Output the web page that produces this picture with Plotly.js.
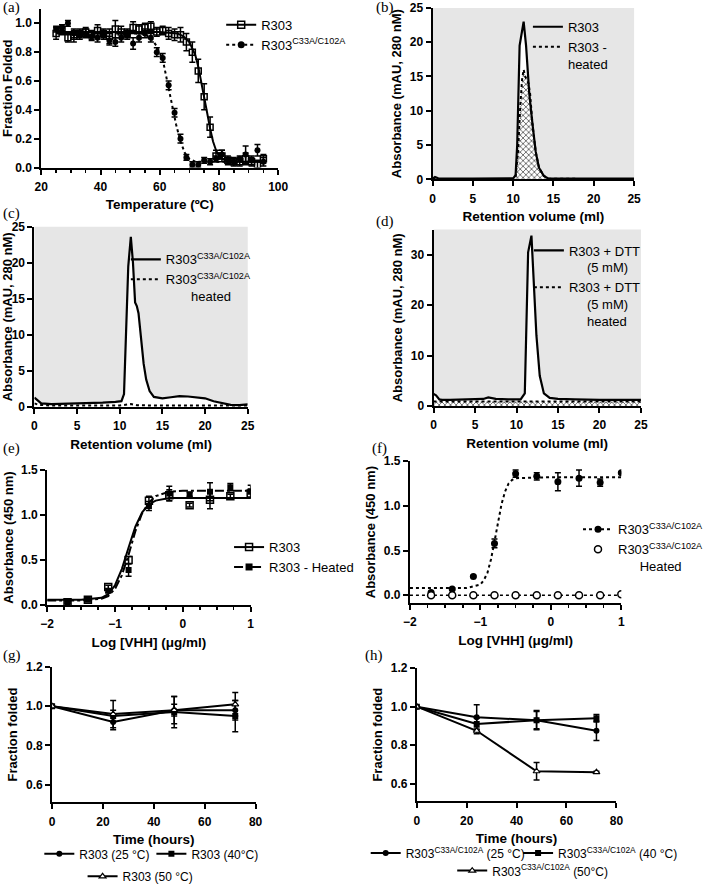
<!DOCTYPE html>
<html>
<head>
<meta charset="utf-8">
<script src="https://cdn.plot.ly/plotly-3.0.1.min.js"></script>
<style>html,body{margin:0;padding:0;overflow:hidden;background:#fff}#plot{width:709px;height:891px}</style>
</head>
<body>
<div id="plot"></div>
<script>
// (a) thermal melt
var tempA = [25,27,29,31,33,35,37,39,41,43,45,47,49,51,53,55,57,59,61,63,65,67,69,71,73,75,77,79,81,83,85,87,89,91,93,95];
var foldWT = [0.93,0.95,0.90,0.91,0.93,0.94,0.92,0.95,0.93,0.91,0.96,0.94,0.93,0.97,0.96,0.97,0.98,0.94,0.95,0.93,0.92,0.92,0.87,0.80,0.67,0.49,0.28,0.08,0.08,0.05,0.04,0.04,0.06,0.04,0.02,0.06];
var errWT = [0.04,0.03,0.03,0.04,0.03,0.03,0.03,0.04,0.03,0.05,0.06,0.04,0.03,0.04,0.03,0.03,0.03,0.03,0.03,0.04,0.04,0.05,0.06,0.07,0.08,0.09,0.07,0.04,0.04,0.03,0.03,0.03,0.04,0.03,0.03,0.03];
var foldMut = [0.96,0.97,1.00,0.93,0.92,0.93,0.91,0.90,0.92,0.88,0.87,0.90,0.92,0.86,0.90,0.93,0.90,0.80,0.76,0.57,0.38,0.20,0.07,0.02,0.02,0.05,0.04,0.06,0.09,0.05,0.04,0.06,0.09,0.05,0.12,0.04];
var errMut = [0.02,0.02,0.02,0.03,0.03,0.03,0.03,0.03,0.03,0.03,0.03,0.03,0.03,0.04,0.03,0.03,0.03,0.03,0.03,0.03,0.03,0.03,0.02,0.02,0.02,0.02,0.02,0.02,0.03,0.02,0.02,0.02,0.06,0.03,0.04,0.03];
var fitTempWT = [25,60,66,68,70,72,73,74,75,76,77,78,79,80,82,85,95];
var fitWT = [0.94,0.94,0.93,0.91,0.87,0.78,0.70,0.60,0.49,0.38,0.27,0.18,0.12,0.08,0.05,0.04,0.04];
var fitTempMut = [25,54,57,59,61,62.5,64,65.5,67,68.5,70,72,95];
var fitMut = [0.93,0.93,0.90,0.84,0.75,0.60,0.45,0.30,0.18,0.10,0.06,0.04,0.04];

// (b) SEC R303
var volB = [0,0.3,0.7,2,5,9,10.0,10.3,10.5,10.8,11.05,11.3,11.6,11.8,12.0,12.4,12.8,13.2,13.8,14.4,16,20,25];
var absB = [0.1,0.35,0.15,0.1,0.1,0.1,0.15,0.6,5,19.5,21,23,19.5,15,12.5,8,4,1.7,0.5,0.1,0.1,0.1,0.1];
var volBh = [0,5,10,10.3,10.6,10.9,11.1,11.3,11.5,11.7,11.9,12.1,12.4,12.8,13.2,13.8,14.4,20,25];
var absBh = [0.05,0.05,0.05,0.3,4,11,14.5,16,15,14.5,14,12.5,8,4,1.7,0.5,0.1,0.05,0.05];

// (c) SEC mutant
var volC = [0,0.3,0.8,2,4,6,8,9.5,10.2,10.5,10.75,11.0,11.3,11.55,11.8,12.0,12.2,12.5,12.8,13.1,13.5,14.0,15,16,17,18,19,20,21,22,23,24,25];
var absC = [1.3,1.0,0.5,0.4,0.45,0.5,0.6,0.7,0.8,1.8,12,19.5,23.6,20,14.5,14,13,9.5,6,3.8,2.2,1.4,1.2,1.35,1.5,1.45,1.3,1.2,0.8,0.5,0.3,0.25,0.35];
var volCh = [0,0.5,2,10,11.3,12,14,25];
var absCh = [0.5,0.3,0.2,0.2,0.4,0.25,0.2,0.2];

// (d) SEC R303 + DTT
var volD = [0,0.3,0.7,1,2,4,5,6,6.6,7.5,9,10.5,11.0,11.2,11.4,11.8,12.1,12.4,12.8,13.3,14.0,15,17,20,25];
var absD = [2.4,2.1,1.3,1.2,1.2,1.3,1.3,1.4,1.7,1.4,1.3,1.3,2.5,15,30.5,33.8,25,14,6,2.5,1.6,1.4,1.3,1.2,1.2];
var volDh = [0,5,10,15,20,25];
var absDh = [0.9,0.9,0.9,0.9,0.9,0.9];

// (e) ELISA R303
var logE = [-1.7,-1.4,-1.1,-0.8,-0.5,-0.2,0.1,0.4,0.7,1.0];
var absE = [0.03,0.06,0.20,0.50,1.16,1.22,1.11,1.17,1.21,1.24];
var errE = [0.01,0.01,0.02,0.04,0.05,0.06,0.02,0.10,0.02,0.05];
var absEh = [0.03,0.06,0.16,0.39,1.10,1.24,1.23,1.26,1.31,1.26];
var errEh = [0.01,0.01,0.02,0.07,0.05,0.08,0.02,0.10,0.04,0.07];
var fitLogE = [-2,-1.5,-1.2,-1.1,-1.0,-0.9,-0.8,-0.7,-0.6,-0.5,-0.4,-0.2,0,0.5,1];
var fitE = [0.06,0.06,0.08,0.12,0.22,0.40,0.64,0.87,1.03,1.12,1.16,1.19,1.19,1.19,1.19];
var fitEh = [0.05,0.05,0.07,0.10,0.18,0.33,0.56,0.82,1.02,1.14,1.21,1.26,1.27,1.27,1.27];

// (f) ELISA mutant
var absF = [0.03,0.07,0.21,0.58,1.36,1.33,1.27,1.31,1.26,1.37];
var errF = [0.01,0.01,0.01,0.05,0.04,0.04,0.10,0.09,0.04,0.01];
var absFh = [0,0,0,0,0,0,0,0,0,0.01];
var fitLogF = [-2,-1.2,-1.0,-0.95,-0.9,-0.85,-0.8,-0.75,-0.7,-0.65,-0.6,-0.55,-0.5,0,1];
var fitF = [0.08,0.08,0.12,0.17,0.25,0.40,0.60,0.82,1.02,1.16,1.25,1.29,1.31,1.32,1.32];
var fitFh = [0,0,0,0,0,0,0,0,0,0,0,0,0,0,0];

// (g) / (h) stability over time
var hours = [0,24,48,72];
var g25 = [1,0.92,0.98,0.98], g25e = [0,0.04,0.03,0.05];
var g40 = [1,0.95,0.97,0.95], g40e = [0,0.03,0.08,0.08];
var g50 = [1,0.96,0.98,1.01], g50e = [0,0.07,0.07,0.06];
var h25 = [1,0.945,0.93,0.875], h25e = [0,0.065,0.045,0.05];
var h40 = [1,0.91,0.93,0.94], h40e = [0,0.03,0.05,0.02];
var h50 = [1,0.875,0.665,0.66], h50e = [0,0.015,0.045,0.005];

var MUT = 'R303<sup>C33A/C102A</sup>';
var FONT = 'Liberation Sans, Arial, sans-serif';
var K = 'black';
var SP = '\u00a0';

function eb(arr) { return {type: 'data', array: arr, color: K, thickness: 1.5, width: 3}; }
function pad(n) { return SP.repeat(n); }

var data = [
  // (a)
  {x: fitTempWT, y: fitWT, mode: 'lines', line: {color: K, width: 2}, xaxis: 'x', yaxis: 'y', showlegend: false},
  {x: fitTempMut, y: fitMut, mode: 'lines', line: {color: K, width: 2, dash: 'dot'}, xaxis: 'x', yaxis: 'y', showlegend: false},
  {x: tempA, y: foldWT, error_y: eb(errWT), mode: 'markers', marker: {symbol: 'square-open', size: 6, color: K, line: {width: 1.5}}, xaxis: 'x', yaxis: 'y', showlegend: false},
  {x: tempA, y: foldMut, error_y: eb(errMut), mode: 'markers', marker: {symbol: 'circle', size: 6, color: K}, xaxis: 'x', yaxis: 'y', showlegend: false},
  {x: [null], y: [null], name: 'R303', mode: 'lines+markers', line: {color: K, width: 2}, marker: {symbol: 'square-open', size: 7, color: K, line: {width: 1.5}}, xaxis: 'x', yaxis: 'y', legend: 'legend'},
  {x: [null], y: [null], name: MUT, mode: 'lines+markers', line: {color: K, width: 2, dash: 'dot'}, marker: {symbol: 'circle', size: 7, color: K}, xaxis: 'x', yaxis: 'y', legend: 'legend'},

  // (b)
  {x: volB, y: absB, fill: 'tozeroy', fillcolor: 'white', mode: 'lines', line: {width: 0}, xaxis: 'x2', yaxis: 'y2', showlegend: false},
  {x: volBh, y: absBh, fill: 'tozeroy', fillpattern: {shape: 'x', fgcolor: '#666', bgcolor: 'white', size: 4, solidity: 0.4}, mode: 'lines', line: {width: 0}, xaxis: 'x2', yaxis: 'y2', showlegend: false},
  {x: volBh, y: absBh, name: 'R303 -<br>heated', legendrank: 2, mode: 'lines', line: {color: K, width: 2, dash: 'dot'}, xaxis: 'x2', yaxis: 'y2', legend: 'legend2'},
  {x: volB, y: absB, name: 'R303', legendrank: 1, mode: 'lines', line: {color: K, width: 2.2}, xaxis: 'x2', yaxis: 'y2', legend: 'legend2'},

  // (c)
  {x: volC, y: absC, fill: 'tozeroy', fillcolor: 'white', mode: 'lines', line: {width: 0}, xaxis: 'x3', yaxis: 'y3', showlegend: false},
  {x: volCh, y: absCh, name: MUT + '<br>' + pad(7) + 'heated', legendrank: 2, mode: 'lines', line: {color: K, width: 2, dash: 'dot'}, xaxis: 'x3', yaxis: 'y3', legend: 'legend3'},
  {x: volC, y: absC, name: MUT, legendrank: 1, mode: 'lines', line: {color: K, width: 2.2}, xaxis: 'x3', yaxis: 'y3', legend: 'legend3'},

  // (d)
  {x: volD, y: absD, fill: 'tozeroy', fillcolor: 'white', mode: 'lines', line: {width: 0}, xaxis: 'x4', yaxis: 'y4', showlegend: false},
  {x: volDh, y: absDh, fill: 'tozeroy', fillpattern: {shape: 'x', fgcolor: '#666', bgcolor: 'white', size: 4, solidity: 0.4}, mode: 'lines', line: {width: 0}, xaxis: 'x4', yaxis: 'y4', showlegend: false},
  {x: volDh, y: absDh, name: 'R303 + DTT<br>' + pad(5) + '(5 mM)<br>' + pad(5) + 'heated', legendrank: 2, mode: 'lines', line: {color: K, width: 2, dash: 'dot'}, xaxis: 'x4', yaxis: 'y4', legend: 'legend4'},
  {x: volD, y: absD, name: 'R303 + DTT<br>' + pad(5) + '(5 mM)', legendrank: 1, mode: 'lines', line: {color: K, width: 2.2}, xaxis: 'x4', yaxis: 'y4', legend: 'legend4'},

  // (e)
  {x: fitLogE, y: fitE, mode: 'lines', line: {color: K, width: 2}, xaxis: 'x5', yaxis: 'y5', showlegend: false},
  {x: fitLogE, y: fitEh, mode: 'lines', line: {color: K, width: 2, dash: 'dashdot'}, xaxis: 'x5', yaxis: 'y5', showlegend: false},
  {x: logE, y: absEh, error_y: eb(errEh), mode: 'markers', marker: {symbol: 'square', size: 6, color: K}, xaxis: 'x5', yaxis: 'y5', showlegend: false},
  {x: logE, y: absE, error_y: eb(errE), mode: 'markers', marker: {symbol: 'square-open', size: 7, color: K, line: {width: 1.5}}, xaxis: 'x5', yaxis: 'y5', showlegend: false},
  {x: [null], y: [null], name: 'R303', mode: 'lines+markers', line: {color: K, width: 2}, marker: {symbol: 'square-open', size: 7, color: K, line: {width: 1.5}}, xaxis: 'x5', yaxis: 'y5', legend: 'legend5'},
  {x: [null], y: [null], name: 'R303 - Heated', mode: 'lines+markers', line: {color: K, width: 2, dash: 'dashdot'}, marker: {symbol: 'square', size: 7, color: K}, xaxis: 'x5', yaxis: 'y5', legend: 'legend5'},

  // (f)
  {x: fitLogF, y: fitF, mode: 'lines', line: {color: K, width: 2, dash: 'dot'}, xaxis: 'x6', yaxis: 'y6', showlegend: false},
  {x: fitLogF, y: fitFh, mode: 'lines', line: {color: K, width: 1.5, dash: 'dot'}, xaxis: 'x6', yaxis: 'y6', showlegend: false},
  {x: logE, y: absF, error_y: eb(errF), mode: 'markers', marker: {symbol: 'circle', size: 7, color: K}, xaxis: 'x6', yaxis: 'y6', showlegend: false},
  {x: logE, y: absFh, mode: 'markers', marker: {symbol: 'circle', size: 7, color: 'white', line: {color: K, width: 1.5}}, xaxis: 'x6', yaxis: 'y6', showlegend: false},
  {x: [null], y: [null], name: MUT, mode: 'lines+markers', line: {color: K, width: 2, dash: 'dot'}, marker: {symbol: 'circle', size: 7, color: K}, xaxis: 'x6', yaxis: 'y6', legend: 'legend6'},
  {x: [null], y: [null], name: MUT + '<br>' + pad(6) + 'Heated', mode: 'markers', marker: {symbol: 'circle', size: 7, color: 'white', line: {color: K, width: 1.5}}, xaxis: 'x6', yaxis: 'y6', legend: 'legend6'},

  // (g)
  {x: hours, y: g25, error_y: eb(g25e), name: 'R303 (25 °C)', mode: 'lines+markers', line: {color: K, width: 2}, marker: {symbol: 'circle', size: 6, color: K}, xaxis: 'x7', yaxis: 'y7', legend: 'legend7'},
  {x: hours, y: g40, error_y: eb(g40e), name: 'R303 (40°C)', mode: 'lines+markers', line: {color: K, width: 2}, marker: {symbol: 'square', size: 6, color: K}, xaxis: 'x7', yaxis: 'y7', legend: 'legend8'},
  {x: hours, y: g50, error_y: eb(g50e), name: 'R303 (50 °C)', mode: 'lines+markers', line: {color: K, width: 2}, marker: {symbol: 'triangle-up', size: 6, color: 'white', line: {color: K, width: 1.2}}, xaxis: 'x7', yaxis: 'y7', legend: 'legend9'},

  // (h)
  {x: hours, y: h25, error_y: eb(h25e), name: MUT + ' (25 °C)', mode: 'lines+markers', line: {color: K, width: 2}, marker: {symbol: 'circle', size: 6, color: K}, xaxis: 'x8', yaxis: 'y8', legend: 'legend10'},
  {x: hours, y: h40, error_y: eb(h40e), name: MUT + ' (40 °C)', mode: 'lines+markers', line: {color: K, width: 2}, marker: {symbol: 'square', size: 6, color: K}, xaxis: 'x8', yaxis: 'y8', legend: 'legend11'},
  {x: hours, y: h50, error_y: eb(h50e), name: MUT + ' (50°C)', mode: 'lines+markers', line: {color: K, width: 2}, marker: {symbol: 'triangle-up', size: 6, color: 'white', line: {color: K, width: 1.2}}, xaxis: 'x8', yaxis: 'y8', legend: 'legend12'}
];

var W = 709, H = 891;
function px(a, b) { return [a / W, b / W]; }
function py(top, bottom) { return [1 - bottom / H, 1 - top / H]; }

function axis(domain, anchor, range, dtick, title, extra) {
  var isX = anchor.charAt(0) === 'y';
  var a = {
    domain: domain, anchor: anchor, range: range, dtick: dtick,
    showline: true, linewidth: 2, linecolor: K, mirror: false,
    ticks: 'outside', ticklen: 5, tickwidth: 2, tickcolor: K,
    ticklabelstandoff: isX ? 2 : 0,
    showgrid: false, zeroline: false,
    tickfont: {family: FONT, size: 12, color: K, weight: 'bold'},
    title: {text: title, font: {family: FONT, size: isX ? 13.5 : 13, color: K, weight: 'bold'}, standoff: isX ? 7 : 5}
  };
  for (var k in extra) a[k] = extra[k];
  return a;
}

function minor(d) { return {dtick: d, ticks: 'outside', ticklen: 3, tickwidth: 1.5, tickcolor: K, showgrid: false}; }

function leg(x, y, extra) {
  var l = {x: x / W, y: 1 - y / H, xanchor: 'left', yanchor: 'top', bgcolor: 'rgba(0,0,0,0)',
    font: {family: FONT, size: 13, color: K}, valign: 'top', tracegroupgap: 0};
  for (var k in extra) l[k] = extra[k];
  return l;
}

function bg(n) {
  var s = n === 1 ? '' : n;
  return {type: 'rect', xref: 'x' + s + ' domain', yref: 'y' + s + ' domain', x0: 0, x1: 1, y0: 0, y1: 1,
    fillcolor: '#e6e6e6', line: {width: 0}, layer: 'below'};
}

function lab(t, x, y) {
  return {text: t, x: x / W, y: 1 - y / H, xref: 'paper', yref: 'paper', xanchor: 'left', yanchor: 'middle',
    showarrow: false, font: {family: 'Liberation Serif, Times New Roman, serif', size: 15, color: K}};
}

var SMALL = {orientation: 'h', font: {family: FONT, size: 12, color: K}};

var layout = {
  width: W, height: H, margin: {l: 0, r: 0, t: 0, b: 0},
  paper_bgcolor: 'white', plot_bgcolor: 'rgba(0,0,0,0)',
  xaxis: axis(px(42, 283), 'y', [20, 100], 20, 'Temperature (ºC)', {minor: minor(5)}),
  yaxis: axis(py(9, 170), 'x', [0, 1.1], 0.2, 'Fraction Folded', {tickformat: '.1f'}),
  xaxis2: axis(px(440, 645), 'y2', [0, 25], 5, 'Retention volume (ml)'),
  yaxis2: axis(py(8, 182), 'x2', [0, 25], 5, 'Absorbance (mAU, 280 nM)'),
  xaxis3: axis(px(35, 252), 'y3', [0, 25], 5, 'Retention volume (ml)'),
  yaxis3: axis(py(230, 413), 'x3', [0, 25], 5, 'Absorbance (mAU, 280 nM)'),
  xaxis4: axis(px(441, 652), 'y4', [0, 25], 5, 'Retention volume (ml)'),
  yaxis4: axis(py(233, 412), 'x4', [0, 35], 10, 'Absorbance (mAU, 280 nM)'),
  xaxis5: axis(px(48, 255), 'y5', [-2, 1], 1, 'Log [VHH] (μg/ml)', {minor: minor(0.25)}),
  yaxis5: axis(py(477, 614), 'x5', [0, 1.5], 0.5, 'Absorbance (450 nm)', {tickformat: '.1f'}),
  xaxis6: axis(px(417, 632), 'y6', [-2, 1], 1, 'Log [VHH] (μg/ml)', {minor: minor(0.25)}),
  yaxis6: axis(py(468, 612), 'x6', [-0.088, 1.5], 0.5, 'Absorbance (450 nm)', {tickformat: '.1f', tick0: 0}),
  xaxis7: axis(px(53, 260), 'y7', [0, 80], 20, 'Time (hours)'),
  yaxis7: axis(py(677, 814), 'x7', [0.51, 1.2], 0.2, 'Fraction folded', {tickformat: '.1f', tick0: 0.6}),
  xaxis8: axis(px(424, 627), 'y8', [0, 80], 20, 'Time (hours)'),
  yaxis8: axis(py(678, 813), 'x8', [0.51, 1.2], 0.2, 'Fraction folded', {tickformat: '.1f', tick0: 0.6}),
  legend: leg(225, 10),
  legend2: leg(537, 12),
  legend3: leg(128, 248),
  legend4: leg(538, 239),
  legend5: leg(233, 540),
  legend6: leg(588, 522),
  legend7: leg(40, 852, SMALL),
  legend8: leg(154, 852, SMALL),
  legend9: leg(84, 875, SMALL),
  legend10: leg(372, 851, SMALL),
  legend11: leg(527, 851, SMALL),
  legend12: leg(460, 869, SMALL),
  shapes: [bg(2), bg(3), bg(4)],
  annotations: [
    lab('(a)', 1, 8), lab('(b)', 380, 8), lab('(c)', 1, 217), lab('(d)', 380, 225),
    lab('(e)', 1, 455), lab('(f)', 376, 455), lab('(g)', 1, 665), lab('(h)', 369, 665)
  ]
};

Plotly.newPlot('plot', data, layout, {staticPlot: true});
</script>
</body>
</html>
